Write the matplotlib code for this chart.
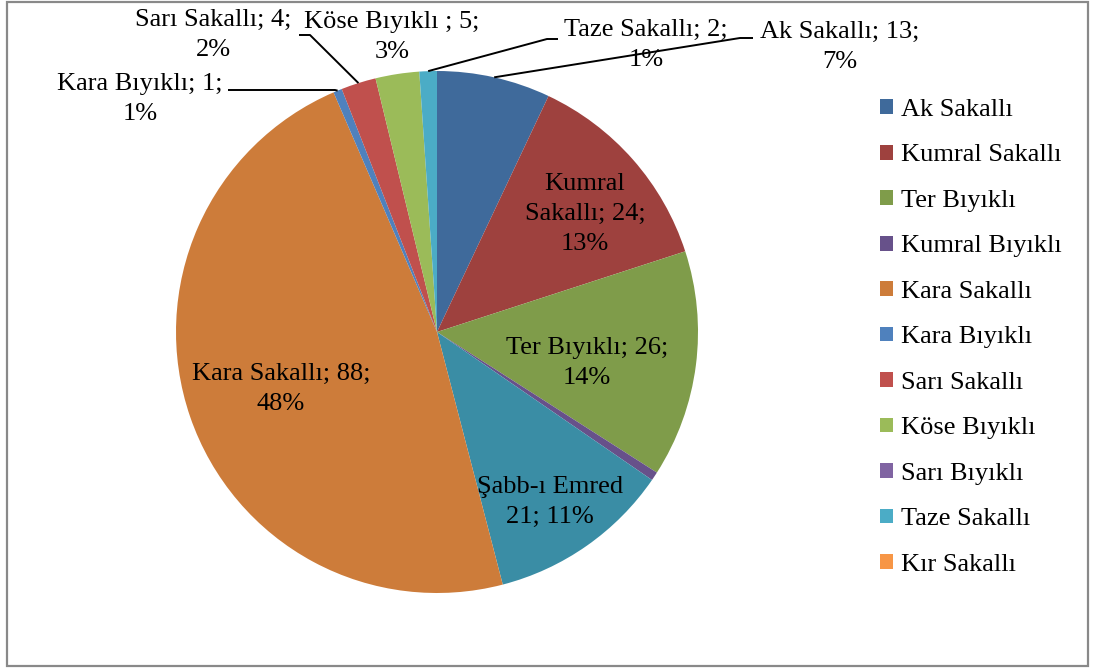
import matplotlib
matplotlib.use('Agg')
import numpy as np
import matplotlib.pyplot as plt
from matplotlib.patches import Patch, Rectangle

W, H = 1094, 668

# pie data (clockwise from 12 o'clock)
categories = ['Ak Sakallı', 'Kumral Sakallı', 'Ter Bıyıklı', 'Kumral Bıyıklı',
              'Şabb-ı Emred', 'Kara Sakallı', 'Kara Bıyıklı', 'Sarı Sakallı',
              'Köse Bıyıklı', 'Sarı Bıyıklı', 'Taze Sakallı', 'Kır Sakallı']
counts = [13, 24, 26, 1, 21, 88, 1, 4, 5, 0, 2, 0]
slice_colors = ['#3F6A9B', '#9E413E', '#7F9C4A', '#67518A', '#3A8DA5', '#CD7C3A',
                '#4F81BD', '#C0504D', '#9BBB59', '#8064A2', '#4BACC6', '#F79646']

# legend as it appears in the chart (no Şabb-ı Emred entry)
legend_names = ['Ak Sakallı', 'Kumral Sakallı', 'Ter Bıyıklı', 'Kumral Bıyıklı',
                'Kara Sakallı', 'Kara Bıyıklı', 'Sarı Sakallı', 'Köse Bıyıklı',
                'Sarı Bıyıklı', 'Taze Sakallı', 'Kır Sakallı']
legend_colors = ['#3F6A9B', '#9E413E', '#7F9C4A', '#67518A', '#CD7C3A', '#4F81BD',
                 '#C0504D', '#9BBB59', '#8064A2', '#4BACC6', '#F79646']

# label text templates
label_tpl = {
    'Ak Sakallı': '{n}; {v};\n{p}%',
    'Kumral Sakallı': 'Kumral\nSakallı; {v};\n{p}%',
    'Ter Bıyıklı': '{n}; {v};\n{p}%',
    'Şabb-ı Emred': '{n}\n{v}; {p}%',
    'Kara Sakallı': '{n}; {v};\n{p}%',
    'Kara Bıyıklı': '{n}; {v};\n{p}%',
    'Sarı Sakallı': '{n}; {v};\n{p}%',
    'Köse Bıyıklı': '{n} ; {v};\n{p}%',
    'Taze Sakallı': '{n}; {v};\n{p}%',
}
# label centres in pixels (top-left origin)
label_pos = {
    'Ak Sakallı': (840, 47),
    'Kumral Sakallı': (585, 214),
    'Ter Bıyıklı': (587, 363),
    'Şabb-ı Emred': (550, 502),
    'Kara Sakallı': (281, 389),
    'Kara Bıyıklı': (140, 99),
    'Sarı Sakallı': (213, 35),
    'Köse Bıyıklı': (392, 37),
    'Taze Sakallı': (646, 45),
}
# leader line points from label side (pixels)
leader_pts = {
    'Ak Sakallı': [(753, 38), (740, 38)],
    'Taze Sakallı': [(558, 39), (547, 39)],
    'Sarı Sakallı': [(299, 35), (310, 35)],
    'Kara Bıyıklı': [(228, 90), (335, 90)],
}

plt.rcParams['font.family'] = ['Liberation Serif', 'DejaVu Serif']
FS = 19

fig = plt.figure(figsize=(W / 100, H / 100), dpi=100)
ax = fig.add_axes([0, 0, 1, 1])

cx, cy, r = 437, H - 332, 261
wedges, _ = ax.pie(counts, colors=slice_colors, startangle=90, counterclock=False,
                   center=(cx, cy), radius=r, frame=False)
for w, v in zip(wedges, counts):
    if v == 0:
        w.set_visible(False)
ax.set_xlim(0, W)
ax.set_ylim(0, H)
ax.set_aspect('equal')
ax.axis('off')

total = sum(counts)
for i, name in enumerate(categories):
    if name not in label_tpl:
        continue
    v = counts[i]
    txt = label_tpl[name].format(n=name, v=v, p=round(100 * v / total))
    x, y = label_pos[name]
    ax.text(x, H - y, txt, ha='center', va='center', fontsize=FS,
            multialignment='center', linespacing=1.45)
    if name in leader_pts:
        w = wedges[i]
        mid = np.deg2rad((w.theta1 + w.theta2) / 2)
        ex, ey = cx + r * np.cos(mid), cy + r * np.sin(mid)
        xs = [p[0] for p in leader_pts[name]] + [ex]
        ys = [H - p[1] for p in leader_pts[name]] + [ey]
        ax.plot(xs, ys, color='black', lw=1.4, solid_capstyle='butt')

handles = [Patch(facecolor=c, edgecolor='none') for c in legend_colors]
fig.legend(handles, legend_names, loc='upper left',
           bbox_to_anchor=(880 / W, 1 - 99 / H), frameon=False, fontsize=FS,
           handlelength=0.49, handleheight=0.49, handletextpad=0.3,
           labelspacing=0.89, borderpad=0, borderaxespad=0)

fig.patches.append(Rectangle((7 / W, 2 / H), 1081 / W, 664 / H,
                             transform=fig.transFigure, fill=False,
                             edgecolor='#898989', lw=1.6))

fig.savefig('out.png', dpi=100)
